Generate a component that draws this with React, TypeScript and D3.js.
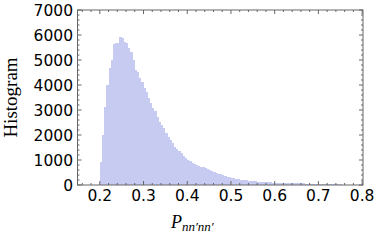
import { scaleLinear, range, area, curveStepAfter } from "d3";

// histogram counts, bins of width 0.005 starting at 0.2
const binStart = 0.2;
const binWidth = 0.005;
const counts = [
  930, 2000, 3130, 4000, 4670, 5000, 5650, 5680, 5700, 5930,
  5870, 5730, 5670, 5470, 5330, 5000, 4620, 4530, 4270, 4130,
  3870, 3730, 3470, 3270, 3100, 2950, 2730, 2530, 2400, 2270,
  2070, 1930, 1800, 1670, 1530, 1430, 1360, 1270, 1160, 1080,
  1000, 950, 900, 860, 820, 780, 740, 720, 670, 630,
  600, 560, 530, 500, 460, 430, 400, 370, 340, 330,
  300, 270, 240, 225, 210, 200, 195, 190, 170, 165,
  160, 150, 135, 125, 120, 115, 110, 112, 105, 100,
  95, 92, 88, 85, 80, 78, 75, 72, 76, 70,
  68, 72, 65, 62, 60, 57, 54, 50, 45, 42,
  44, 40, 38, 40, 35, 33, 30, 32, 28, 25,
  22, 20, 18, 20, 16, 14, 15, 12, 10, 8,
];

const xMajor = [0.2, 0.3, 0.4, 0.5, 0.6, 0.7, 0.8];
const yMajor = [0, 1000, 2000, 3000, 4000, 5000, 6000, 7000];

const W = 382;
const H = 245;
const left = 77.5;
const right = 363;
const top = 10;
const bottom = 185;

const FRAME = "#666";
const BAR = "#c8cbf1";

export default function App() {
  const x = scaleLinear().domain([0.149, 0.802]).range([left, right]);
  const y = scaleLinear().domain([0, 7000]).range([bottom, top]);

  const xMinor = range(0.16, 0.801, 0.02).filter(
    (v) => !xMajor.some((m) => Math.abs(m - v) < 1e-6)
  );
  const yMinor = range(0, 7001, 200).filter((v) => v % 1000 !== 0);

  // step outline of the histogram: one point per bin edge
  const pts: [number, number][] = counts.map((c, i) => [binStart + i * binWidth, c]);
  pts.push([binStart + counts.length * binWidth, counts[counts.length - 1]]);
  const histArea = area<[number, number]>()
    .x((d) => x(d[0]))
    .y0(y(0))
    .y1((d) => y(d[1]))
    .curve(curveStepAfter);

  return (
    <div style={{ position: "absolute", left: 0, top: 0 }}>
      <svg width={W} height={H} style={{ display: "block" }}>
        <rect width={W} height={H} fill="#fff" />
        <path d={histArea(pts) || ""} fill={BAR} shapeRendering="crispEdges" />
        {/* frame */}
        <rect
          x={left}
          y={top}
          width={right - left}
          height={bottom - top}
          fill="none"
          stroke={FRAME}
          strokeWidth={1}
        />
        {/* x ticks bottom & top */}
        {xMajor.map((v) => (
          <g key={"xM" + v}>
            <line x1={x(v)} x2={x(v)} y1={bottom} y2={bottom - 4} stroke={FRAME} />
            <line x1={x(v)} x2={x(v)} y1={top} y2={top + 4} stroke={FRAME} />
            <text
              x={x(v)}
              y={201}
              textAnchor="middle"
              fontFamily="DejaVu Sans, sans-serif"
              fontSize={15.5}
              fill="#000"
            >
              {v.toFixed(1)}
            </text>
          </g>
        ))}
        {xMinor.map((v) => (
          <g key={"xm" + v}>
            <line x1={x(v)} x2={x(v)} y1={bottom} y2={bottom - 2} stroke={FRAME} />
            <line x1={x(v)} x2={x(v)} y1={top} y2={top + 2} stroke={FRAME} />
          </g>
        ))}
        {/* y ticks left & right */}
        {yMajor.map((v) => (
          <g key={"yM" + v}>
            <line x1={left} x2={left + 4} y1={y(v)} y2={y(v)} stroke={FRAME} />
            <line x1={right} x2={right - 4} y1={y(v)} y2={y(v)} stroke={FRAME} />
            <text
              x={73}
              y={y(v) + 5.5}
              textAnchor="end"
              fontFamily="DejaVu Sans, sans-serif"
              fontSize={15.5}
              fill="#000"
            >
              {v}
            </text>
          </g>
        ))}
        {yMinor.map((v) => (
          <g key={"ym" + v}>
            <line x1={left} x2={left + 2} y1={y(v)} y2={y(v)} stroke={FRAME} />
            <line x1={right} x2={right - 2} y1={y(v)} y2={y(v)} stroke={FRAME} />
          </g>
        ))}
        {/* axis labels */}
        <text
          transform={`translate(17,${(top + bottom) / 2}) rotate(-90)`}
          textAnchor="middle"
          fontFamily="Liberation Serif, Times New Roman, serif"
          fontSize={19}
          fill="#000"
        >
          Histogram
        </text>
        <text
          x={171}
          y={228}
          fontFamily="Liberation Serif, Times New Roman, serif"
          fontStyle="italic"
          fontSize={18}
          fill="#000"
        >
          P
          <tspan dy={3} fontSize={13}>
            nn′nn′
          </tspan>
        </text>
      </svg>
    </div>
  );
}
